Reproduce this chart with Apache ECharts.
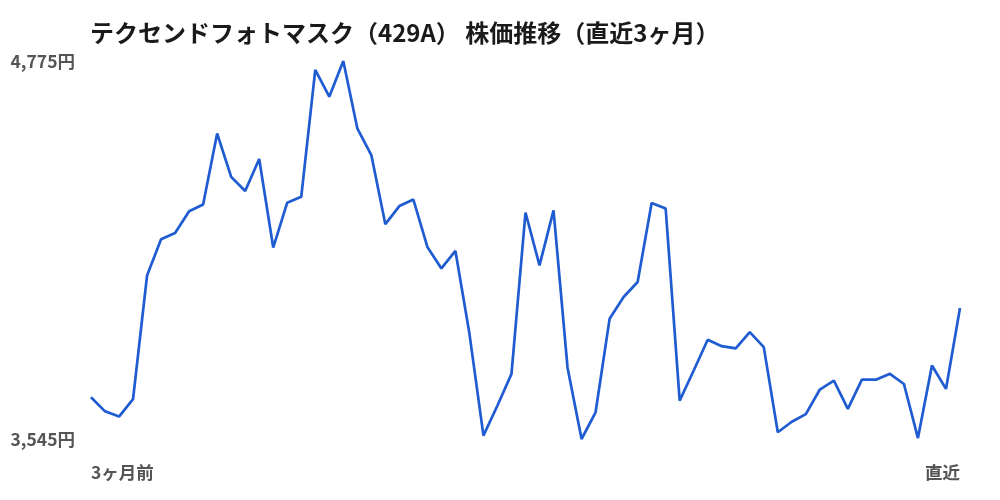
<!DOCTYPE html>
<html>
<head>
<meta charset="utf-8">
<script src="https://cdn.jsdelivr.net/npm/echarts@6/dist/echarts.min.js"></script>
<style>
html,body{margin:0;padding:0;background:#fff;}
#chart{width:1000px;height:500px;}
</style>
</head>
<body>
<div id="chart"></div>
<script>
const title = 'テクセンドフォトマスク（429A） 株価推移（直近3ヶ月）';
const days = [1,2,3,4,5,6,7,8,9,10,11,12,13,14,15,16,17,18,19,20,21,22,23,24,25,26,27,28,29,30,31,32,33,34,35,36,37,38,39,40,41,42,43,44,45,46,47,48,49,50,51,52,53,54,55,56,57,58,59,60,61,62,63];
const prices = [3681,3635,3618,3675,4077,4195,4215,4286,4308,4539,4398,4352,4456,4168,4314,4333,4746,4659,4775,4556,4469,4244,4303,4324,4170,4100,4157,3888,3556,3654,3757,4282,4110,4289,3777,3545,3632,3936,4007,4056,4313,4295,3670,3768,3868,3847,3840,3893,3844,3567,3601,3626,3706,3735,3643,3738,3738,3757,3724,3548,3784,3708,3971];
const xTickLabels = ['3ヶ月前', '直近'];
const yTicks = [3545, 4775];
const yUnit = '円';

const chart = echarts.init(document.getElementById('chart'));
const font = '"Noto Sans CJK JP", "Noto Sans", sans-serif';
chart.setOption({
  animation: false,
  backgroundColor: '#ffffff',
  title: {
    text: title,
    left: 85,
    top: 16,
    textStyle: { fontFamily: font, fontSize: 24, fontWeight: 'bold', color: '#1a1a1a' }
  },
  grid: { left: 91, right: 40, top: 61, bottom: 61 },
  xAxis: {
    type: 'category',
    data: days,
    boundaryGap: false,
    axisLine: { show: false },
    axisTick: { show: false },
    splitLine: { show: false },
    axisLabel: {
      interval: 0,
      margin: 25,
      fontFamily: font, fontSize: 17.5, fontWeight: 'bold', color: '#555555',
      alignMinLabel: 'left',
      alignMaxLabel: 'right',
      formatter: function (v, i) {
        if (i === 0) return xTickLabels[0];
        if (i === days.length - 1) return xTickLabels[1];
        return '';
      }
    }
  },
  yAxis: {
    type: 'value',
    min: yTicks[0],
    max: yTicks[1],
    axisLine: { show: false },
    axisTick: { show: false },
    splitLine: { show: false },
    axisLabel: {
      customValues: yTicks,
      margin: 16,
      fontFamily: font, fontSize: 17.5, fontWeight: 'bold', color: '#555555',
      formatter: function (v) { return v.toLocaleString('en-US') + yUnit; }
    }
  },
  series: [{
    type: 'line',
    data: prices,
    symbol: 'none',
    lineStyle: { color: '#1f5bd1', width: 2.7 },
    itemStyle: { color: '#1f5bd1' }
  }]
});
</script>
</body>
</html>
